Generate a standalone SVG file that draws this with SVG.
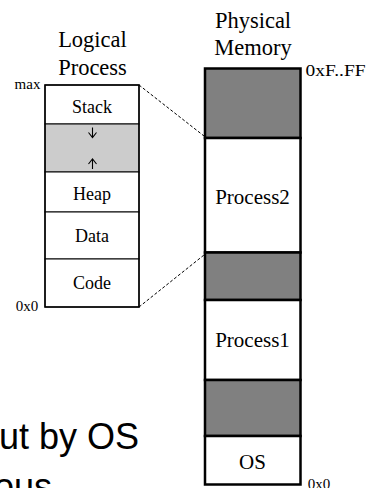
<svg xmlns="http://www.w3.org/2000/svg" width="368" height="488" viewBox="0 0 368 488">
<style>
.t{font-family:"Liberation Serif","Times New Roman",serif;fill:#000;text-anchor:middle}
.h{font-size:22.5px}
.l{font-size:18px}
.p{font-size:21px}
.s{font-size:15px}
.big{font-family:"Liberation Sans",Arial,sans-serif;font-size:36px;fill:#000}
.lb{fill:#fff;stroke:#000;stroke-width:1}
.lg{fill:#cccccc;stroke:#000;stroke-width:1}
.pb{fill:#fff;stroke:#000;stroke-width:2.5}
.pg{fill:#808080;stroke:#000;stroke-width:2.5}
.d{fill:none;stroke:#000;stroke-width:1;stroke-dasharray:3,2}
.ar{fill:none;stroke:#000;stroke-width:1.1}
</style>
<g id="text-bottom">
<text class="big" x="-1" y="449">ut by OS</text>
<text class="big" x="-6" y="499">ous</text>
</g>
<g id="logical-title">
<text class="t h" x="92.5" y="46.5">Logical</text>
<text class="t h" x="92.5" y="75">Process</text>
</g>
<g id="physical-title">
<text class="t h" x="253" y="27.5">Physical</text>
<text class="t h" x="253" y="55">Memory</text>
</g>
<g id="logical-stack">
<rect class="lb" x="45" y="85" width="94" height="39"/>
<text class="t l" x="92" y="112.5">Stack</text>
</g>
<g id="logical-free">
<rect class="lg" x="45" y="124" width="94" height="48"/>
<path class="ar" d="M92.5 127.5V137.5M88.5 132.5L92.5 137.5L96.5 132.5"/>
<path class="ar" d="M92.5 169V159M88.5 164L92.5 159L96.5 164"/>
</g>
<g id="logical-heap">
<rect class="lb" x="45" y="172" width="94" height="40"/>
<text class="t l" x="92" y="200">Heap</text>
</g>
<g id="logical-data">
<rect class="lb" x="45" y="212" width="94" height="47"/>
<text class="t l" x="92" y="241.5">Data</text>
</g>
<g id="logical-code">
<rect class="lb" x="45" y="259" width="94" height="48"/>
<text class="t l" x="92" y="289">Code</text>
</g>
<rect x="45" y="85" width="94" height="222" fill="none" stroke="#000" stroke-width="1.5"/>
<g id="logical-labels">
<text class="t s" x="27.5" y="89">max</text>
<text class="t s" x="27" y="310.5">0x0</text>
</g>
<g id="phys-free1"><rect class="pg" x="205" y="68.5" width="95.5" height="69.5"/></g>
<g id="phys-process2">
<rect class="pb" x="205" y="138" width="95.5" height="114.5"/>
<text class="t p" x="252.5" y="203.5">Process2</text>
</g>
<g id="phys-free2"><rect class="pg" x="205" y="252.5" width="95.5" height="47.5"/></g>
<g id="phys-process1">
<rect class="pb" x="205" y="300" width="95.5" height="80"/>
<text class="t p" x="252.5" y="346.5">Process1</text>
</g>
<g id="phys-free3"><rect class="pg" x="205" y="380" width="95.5" height="56"/></g>
<g id="phys-os">
<rect class="pb" x="205" y="436" width="95.5" height="48.5"/>
<text class="t p" x="252.5" y="468.5">OS</text>
</g>
<g id="phys-labels">
<text class="t" x="335.5" y="76" font-size="17" textLength="60" lengthAdjust="spacingAndGlyphs">0xF..FF</text>
<text class="t s" x="319" y="489">0x0</text>
</g>
<g id="connectors">
<line class="d" x1="139" y1="85" x2="204" y2="136"/>
<line class="d" x1="139" y1="307" x2="204" y2="255"/>
</g>
</svg>
